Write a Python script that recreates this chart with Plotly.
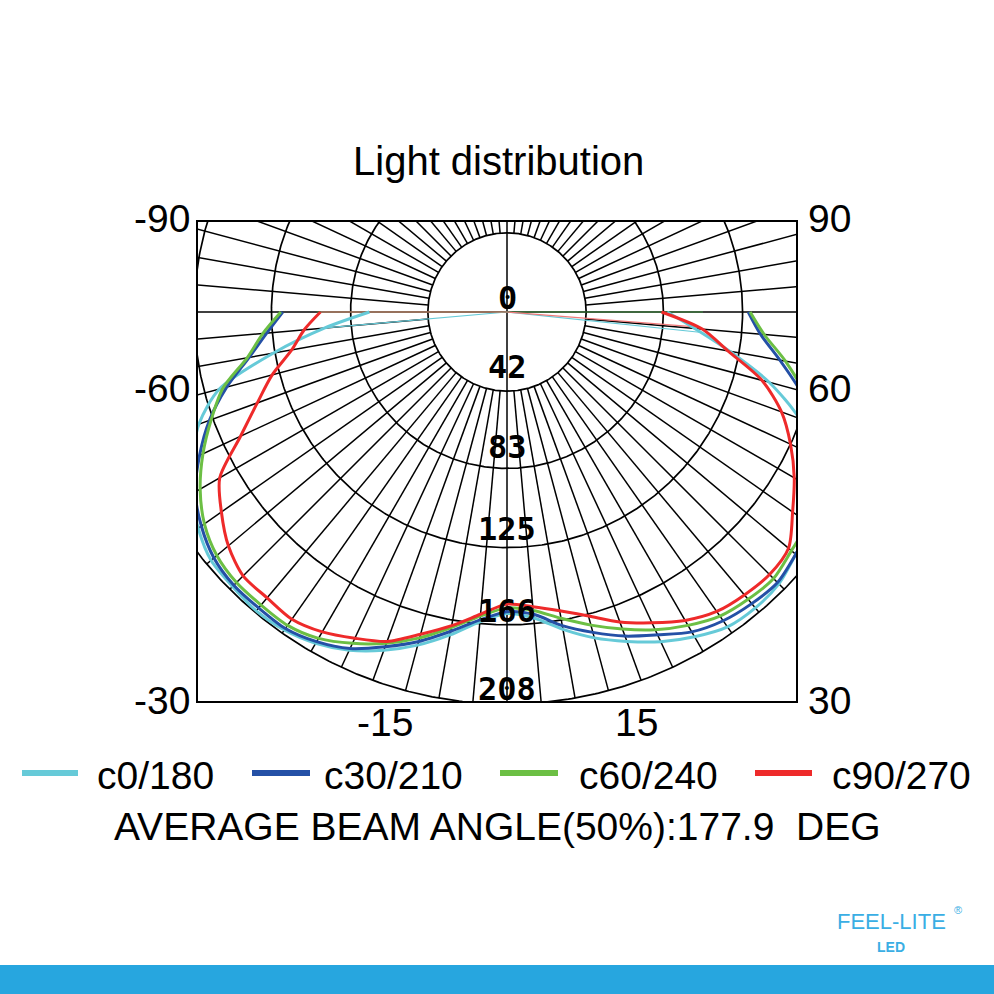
import numpy as np
import plotly.graph_objects as go

# ---------------------------------------------------------------------------
# Photometric data: luminous intensity (cd) against gamma angle (deg).
# gamma 0 = straight down; negative gamma = second half-plane (180/210/240/270)
# ---------------------------------------------------------------------------
gamma = list(range(-90, 95, 5))

c0_180 = [73, 97, 126, 158, 174, 184, 193, 200, 205, 206, 207, 206, 203, 198, 191, 183, 174, 165, 160,
          163, 171, 179, 186, 193, 199, 204, 205, 204, 200, 196, 190, 180, 165, 144, 120, 100, 85]
c30_210 = [119, 128, 139, 154, 168, 180, 191, 198, 203, 205, 205, 205, 202, 197, 189, 181, 172, 164, 159,
           161, 169, 176, 183, 189, 196, 200, 202, 203, 200, 197, 193, 185, 174, 161, 147, 135, 128]
c60_240 = [120, 130, 140, 156, 167, 178, 188, 196, 201, 203, 203, 203, 200, 194, 187, 179, 170, 162, 157,
           159, 165, 172, 179, 186, 192, 197, 199, 200, 197, 195, 191, 185, 175, 163, 150, 137, 129]
c90_270 = [99, 108, 116, 129, 141, 156, 176, 185, 193, 198, 198, 199, 196, 191, 186, 177, 169, 161, 155,
           157, 161, 167, 175, 182, 189, 194, 196, 197, 195, 185, 176, 166, 155, 140, 119, 104, 82]

# thin return strokes to the lamp centre: (gamma, cd) at each end
c0_close_gamma, c0_close_cd = [-85, 84], [98, 104]
c60_close_gamma, c60_close_cd = [-90, 90], [101, 104]
c90_close_gamma, c90_close_cd = [-90, 85.5], [99, 102]

series_names = ["c0/180", "c30/210", "c60/240", "c90/270"]
series_values = [c0_180, c30_210, c60_240, c90_270]
series_colors = ["#66cad8", "#2450a6", "#6cbf44", "#ee2a2a"]

ring_values = [42, 83, 125, 166, 208]
ring_labels = ["0", "42", "83", "125", "166", "208"]
left_labels = ["-90", "-60", "-30"]
right_labels = ["90", "60", "30"]
bottom_labels = ["-15", "15"]
beam_text = "AVERAGE BEAM ANGLE(50%):177.9\u00a0 DEG"

# ---------------------------------------------------------------------------
W = H = 994
PL, PR, PT, PB = 198, 796, 222, 701          # plot-area edges in pixels
CX, CY = 507, 312                              # lamp centre in pixels
SCALE = 392 / 208                              # pixels per candela
FONT = "Liberation Sans, Arial, sans-serif"


def polar_xy(g_deg, cd):
    g = np.radians(np.asarray(g_deg, dtype=float))
    r = np.asarray(cd, dtype=float)
    return r * np.sin(g), -r * np.cos(g)


def paper(px, py):
    return (px - PL) / (PR - PL), (PB - py) / (PB - PT)


fig = go.Figure()

# --- polar grid: concentric rings --------------------------------------------
t = np.linspace(0, 2 * np.pi, 721)
ring_x, ring_y = [], []
for rv in ring_values:
    ring_x += list(rv * np.cos(t)) + [None]
    ring_y += list(rv * np.sin(t)) + [None]
fig.add_trace(go.Scatter(x=ring_x, y=ring_y, mode="lines",
                         line=dict(color="black", width=1.7),
                         hoverinfo="skip", showlegend=False))

# --- polar grid: 5-degree spokes ---------------------------------------------
spoke_x, spoke_y = [], []
for a in range(0, 360, 5):
    r0 = 0 if a % 90 == 0 else ring_values[0]
    x0, y0 = polar_xy(a, r0)
    x1, y1 = polar_xy(a, ring_values[-1])
    spoke_x += [float(x0), float(x1), None]
    spoke_y += [float(y0), float(y1), None]
fig.add_trace(go.Scatter(x=spoke_x, y=spoke_y, mode="lines",
                         line=dict(color="black", width=1.5),
                         hoverinfo="skip", showlegend=False))

# --- thin return strokes -------------------------------------------------------
for g_list, cd_list, col in [(c0_close_gamma, c0_close_cd, "#66cad8"),
                              (c60_close_gamma, c60_close_cd, "#3f8f3f"),
                              (c90_close_gamma, c90_close_cd, "#f07a7a")]:
    xs, ys = [], []
    for g, cd in zip(g_list, cd_list):
        ex, ey = polar_xy(g, cd)
        xs += [0, float(ex), None]
        ys += [0, float(ey), None]
    fig.add_trace(go.Scatter(x=xs, y=ys, mode="lines", line=dict(color=col, width=1.2),
                             hoverinfo="skip", showlegend=False))

# --- intensity curves ----------------------------------------------------------
for name, vals, col in zip(series_names, series_values, series_colors):
    x, y = polar_xy(gamma, vals)
    fig.add_trace(go.Scatter(x=x, y=y, mode="lines", name=name,
                             line=dict(color=col, width=3, shape="spline", smoothing=0.8),
                             showlegend=False))

annotations = []

# ring value labels, sitting just above (inside) each ring
ring_label_lift = [14, 24, 21, 19, 14, 15]   # pixels above the ring
for lab, rv, lift in zip(ring_labels, [0] + ring_values, ring_label_lift):
    annotations.append(dict(x=0, y=-rv + lift / SCALE, xref="x", yref="y", text=lab,
                            showarrow=False, xanchor="center", yanchor="middle",
                            font=dict(family="DejaVu Sans Mono", size=32, color="black",
                                      weight="bold")))

# side and bottom labels
for lab, py in zip(left_labels, [218, 388, 700]):
    xp, yp = paper(PL, py)
    annotations.append(dict(x=xp, y=yp, xref="paper", yref="paper", text=lab, showarrow=False,
                            xanchor="right", yanchor="middle", xshift=-6,
                            font=dict(family=FONT, size=39, color="black")))
for lab, py in zip(right_labels, [218, 388, 700]):
    xp, yp = paper(PR, py)
    annotations.append(dict(x=xp, y=yp, xref="paper", yref="paper", text=lab, showarrow=False,
                            xanchor="left", yanchor="middle", xshift=10,
                            font=dict(family=FONT, size=39, color="black")))
for lab, px in zip(bottom_labels, [385, 636]):
    xp, yp = paper(px, 722)
    annotations.append(dict(x=xp, y=yp, xref="paper", yref="paper", text=lab, showarrow=False,
                            xanchor="center", yanchor="middle",
                            font=dict(family=FONT, size=39, color="black")))

# title
xp, yp = paper(498, 161)
annotations.append(dict(x=xp, y=yp, xref="paper", yref="paper", text="Light distribution",
                        showarrow=False, xanchor="center", yanchor="middle",
                        font=dict(family=FONT, size=40, color="black")))

# legend (drawn by hand so the swatches sit on one centred row)
shapes = []
legend_line_px = [(22, 78), (252, 310), (500, 558), (755, 812)]
legend_text_px = [95, 322, 577, 830]
for name, col, (lx0, lx1), tx in zip(series_names, series_colors, legend_line_px, legend_text_px):
    a0 = paper(lx0, 773)
    a1 = paper(lx1, 773)
    shapes.append(dict(type="line", xref="paper", yref="paper", x0=a0[0], y0=a0[1],
                       x1=a1[0], y1=a1[1], line=dict(color=col, width=6)))
    xp, yp = paper(tx, 775)
    annotations.append(dict(x=xp, y=yp, xref="paper", yref="paper", text=name, showarrow=False,
                            xanchor="left", yanchor="middle",
                            font=dict(family=FONT, size=39, color="black")))

xp, yp = paper(497, 826)
annotations.append(dict(x=xp, y=yp, xref="paper", yref="paper", text=beam_text, showarrow=False,
                        xanchor="center", yanchor="middle",
                        font=dict(family=FONT, size=39, color="black")))

# brand mark and footer band
logo_blue = "#3aaee4"
xp, yp = paper(892, 921)
annotations.append(dict(x=xp, y=yp, xref="paper", yref="paper", text="FEEL-LITE", showarrow=False,
                        xanchor="center", yanchor="middle",
                        font=dict(family=FONT, size=22, color=logo_blue)))
xp, yp = paper(891, 947)
annotations.append(dict(x=xp, y=yp, xref="paper", yref="paper", text="LED", showarrow=False,
                        xanchor="center", yanchor="middle",
                        font=dict(family=FONT, size=14, color=logo_blue, weight="bold")))
xp, yp = paper(958, 910)
annotations.append(dict(x=xp, y=yp, xref="paper", yref="paper", text="\u00ae", showarrow=False,
                        xanchor="center", yanchor="middle",
                        font=dict(family=FONT, size=11, color=logo_blue)))

b0 = paper(0, 965)
b1 = paper(W, H)
shapes.append(dict(type="rect", xref="paper", yref="paper", x0=b0[0], y0=b0[1], x1=b1[0], y1=b1[1],
                   line=dict(width=0), fillcolor="#27a6df", layer="above"))

fig.update_layout(
    width=W, height=H,
    margin=dict(l=PL, r=W - PR, t=PT, b=H - PB, pad=0),
    paper_bgcolor="white", plot_bgcolor="white",
    showlegend=False,
    annotations=annotations,
    shapes=shapes,
    xaxis=dict(range=[-(CX - PL) / SCALE, (PR - CX) / SCALE], showgrid=False, zeroline=False,
               showticklabels=False, ticks="", showline=True, linecolor="black", linewidth=2,
               mirror=True, fixedrange=True),
    yaxis=dict(range=[-(PB - CY) / SCALE, (CY - PT) / SCALE], showgrid=False, zeroline=False,
               showticklabels=False, ticks="", showline=True, linecolor="black", linewidth=2,
               mirror=True, fixedrange=True),
)

fig.write_html("out.html")
